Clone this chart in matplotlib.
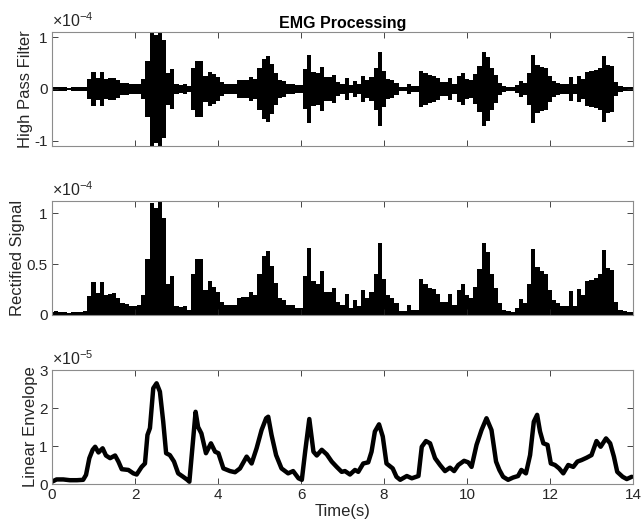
import matplotlib
matplotlib.use('Agg')
import matplotlib.pyplot as plt
from matplotlib.ticker import FuncFormatter
import numpy as np

plt.rcParams['font.family'] = ['Liberation Sans', 'DejaVu Sans']
plt.rcParams['axes.unicode_minus'] = False
plt.rcParams['mathtext.fontset'] = 'custom'
plt.rcParams['mathtext.rm'] = 'Liberation Sans'
plt.rcParams['mathtext.it'] = 'Liberation Sans'

# rectified EMG amplitude (x1e-4), sampled every 0.1 s from 0 to 14 s
rect_t = np.round(np.arange(0, 14.01, 0.1), 2)
rect_vals = [0.03, 0.04, 0.03, 0.03, 0.02, 0.03, 0.03, 0.03, 0.04, 0.19,
             0.32, 0.22, 0.32, 0.20, 0.21, 0.22, 0.17, 0.12, 0.11, 0.09,
             0.09, 0.10, 0.20, 0.55, 1.10, 1.05, 1.12, 0.95, 0.30, 0.38,
             0.09, 0.08, 0.09, 0.05, 0.40, 0.55, 0.55, 0.25, 0.33, 0.28,
             0.23, 0.13, 0.10, 0.10, 0.10, 0.17, 0.18, 0.18, 0.23, 0.20,
             0.40, 0.58, 0.63, 0.48, 0.31, 0.17, 0.15, 0.10, 0.10, 0.07,
             0.07, 0.38, 0.66, 0.33, 0.30, 0.43, 0.23, 0.23, 0.27, 0.13,
             0.10, 0.21, 0.07, 0.15, 0.09, 0.25, 0.17, 0.23, 0.40, 0.71,
             0.35, 0.20, 0.17, 0.12, 0.04, 0.04, 0.10, 0.05, 0.05, 0.35,
             0.30, 0.27, 0.26, 0.21, 0.13, 0.13, 0.21, 0.10, 0.25, 0.30,
             0.20, 0.17, 0.28, 0.45, 0.71, 0.62, 0.40, 0.27, 0.12, 0.05,
             0.04, 0.03, 0.07, 0.16, 0.12, 0.30, 0.65, 0.47, 0.43, 0.40,
             0.25, 0.15, 0.12, 0.09, 0.09, 0.24, 0.09, 0.26, 0.20, 0.33,
             0.34, 0.36, 0.40, 0.64, 0.46, 0.44, 0.13, 0.05, 0.04, 0.03,
             0.03]
rect = np.array(rect_vals) * 1e-4

# linear envelope (x1e-5)
env_t = [0.0, 0.11, 0.27, 0.43, 0.6, 0.75, 0.82, 0.9, 0.98, 1.04, 1.12, 1.22,
         1.3, 1.4, 1.52, 1.6, 1.68, 1.84, 1.96, 2.04, 2.16, 2.24, 2.3, 2.36,
         2.44, 2.52, 2.6, 2.68, 2.75, 2.84, 2.94, 3.04, 3.16, 3.26, 3.31,
         3.39, 3.46, 3.52, 3.6, 3.71, 3.83, 3.93, 4.01, 4.13, 4.29, 4.41,
         4.53, 4.69, 4.81, 4.93, 5.05, 5.16, 5.21, 5.29, 5.4, 5.53, 5.69,
         5.81, 5.94, 6.02, 6.1, 6.2, 6.3, 6.38, 6.5, 6.62, 6.74, 6.86, 6.98,
         7.06, 7.18, 7.3, 7.38, 7.5, 7.62, 7.7, 7.78, 7.88, 7.97, 8.06, 8.21,
         8.3, 8.39, 8.55, 8.67, 8.83, 8.91, 9.01, 9.11, 9.23, 9.35, 9.47,
         9.59, 9.69, 9.79, 9.93, 10.03, 10.11, 10.23, 10.35, 10.47, 10.59,
         10.7, 10.78, 10.87, 10.99, 11.11, 11.23, 11.31, 11.42, 11.52, 11.61,
         11.69, 11.76, 11.84, 11.94, 12.02, 12.12, 12.22, 12.32, 12.44,
         12.56, 12.66, 12.76, 12.88, 13.0, 13.12, 13.22, 13.35, 13.45, 13.54,
         13.62, 13.75, 13.85, 13.97]
env_vals = [0.06, 0.12, 0.12, 0.10, 0.10, 0.11, 0.24, 0.68, 0.90, 0.98, 0.83,
            0.94, 0.75, 0.68, 0.75, 0.59, 0.39, 0.37, 0.28, 0.25, 0.45, 0.54,
            1.29, 1.47, 2.52, 2.65, 2.43, 1.64, 0.81, 0.76, 0.59, 0.28, 0.19,
            0.11, 0.06, 1.03, 1.90, 1.50, 1.33, 0.81, 1.07, 0.85, 0.81, 0.41,
            0.34, 0.31, 0.41, 0.72, 0.54, 0.94, 1.42, 1.73, 1.77, 1.29, 0.76,
            0.41, 0.28, 0.34, 0.15, 0.11, 0.85, 1.71, 0.85, 0.75, 0.90, 0.78,
            0.59, 0.45, 0.32, 0.34, 0.25, 0.37, 0.32, 0.54, 0.57, 0.85, 1.38,
            1.57, 1.25, 0.54, 0.41, 0.19, 0.11, 0.21, 0.15, 0.21, 0.98, 1.13,
            1.07, 0.68, 0.50, 0.34, 0.43, 0.34, 0.50, 0.61, 0.57, 0.45, 1.03,
            1.42, 1.73, 1.42, 0.59, 0.37, 0.19, 0.11, 0.17, 0.21, 0.37, 0.28,
            0.76, 1.64, 1.82, 1.38, 1.07, 1.03, 0.54, 0.50, 0.41, 0.28, 0.50,
            0.45, 0.59, 0.63, 0.69, 0.76, 1.13, 0.98, 1.20, 1.07, 0.72, 0.32,
            0.19, 0.13, 0.19]
env = np.array(env_vals) * 1e-5

xticks = [0, 2, 4, 6, 8, 10, 12, 14]
gray = '#262626'
boxc = '#8c8c8c'

# bin edges halfway between samples
dt = rect_t[1] - rect_t[0]
edges = np.concatenate([[rect_t[0] - dt / 2], rect_t + dt / 2])

fig = plt.figure(figsize=(6.41, 5.26), dpi=100)
left, width, height = 52 / 641, 581 / 641, 114 / 526
ax1 = fig.add_axes([left, 1 - 146 / 526, width, height])
ax2 = fig.add_axes([left, 1 - 315 / 526, width, height])
ax3 = fig.add_axes([left, 1 - 484 / 526, width, height])

ax1.stairs(rect, edges, baseline=-rect, fill=True, color='k', lw=1)
ax2.stairs(rect, edges, baseline=0, fill=True, color='k', lw=1)
ax3.plot(env_t, env, color='k', lw=3.2, solid_joinstyle='round',
         solid_capstyle='round')

ax1.set_ylim(-1.1e-4, 1.1e-4)
ax1.set_yticks([-1e-4, 0, 1e-4])
ax2.set_ylim(0, 1.12e-4)
ax2.set_yticks([0, 0.5e-4, 1e-4])
ax3.set_ylim(0, 3e-5)
ax3.set_yticks([0, 1e-5, 2e-5, 3e-5])

scales = [(ax1, 1e-4, '-4'), (ax2, 1e-4, '-4'), (ax3, 1e-5, '-5')]
for ax, sc, ex in scales:
    ax.set_xlim(0, 14)
    ax.set_xticks(xticks)
    ax.yaxis.set_major_formatter(FuncFormatter(lambda v, p, s=sc: '%g' % round(v / s, 3)))
    ax.tick_params(direction='in', top=True, right=True, length=4, width=0.6,
                   color=gray, labelcolor=gray, labelsize=11, pad=3)
    for sp in ax.spines.values():
        sp.set_color(boxc)
        sp.set_linewidth(0.8)
    ax.text(0, 1.015, r'$\times10^{' + ex + '}$', transform=ax.transAxes,
            fontsize=11.5, color=gray, ha='left', va='bottom')

ax1.set_xticklabels([])
ax2.set_xticklabels([])

ax1.set_ylabel('High Pass Filter', fontsize=12, color=gray, labelpad=1)
ax2.set_ylabel('Rectified Signal', fontsize=12, color=gray, labelpad=1)
ax3.set_ylabel('Linear Envelope', fontsize=12, color=gray, labelpad=1)
ax3.set_xlabel('Time(s)', fontsize=12, color=gray, labelpad=1)
ax1.set_title('EMG Processing', fontsize=11.5, fontweight='bold', pad=3)

fig.savefig('out.png', dpi=100)
